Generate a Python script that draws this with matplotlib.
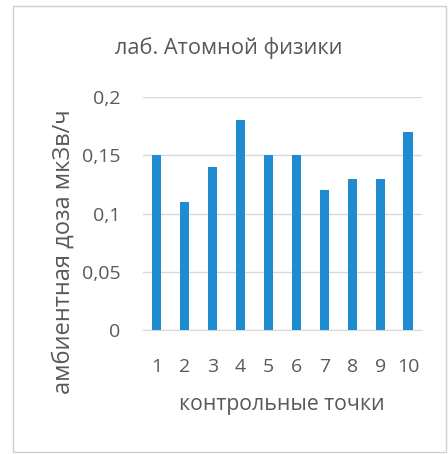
import matplotlib
matplotlib.use("Agg")
import matplotlib.pyplot as plt
from matplotlib.patches import Rectangle

plt.rcParams['font.family'] = ['Open Sans', 'DejaVu Sans']

points = ['1', '2', '3', '4', '5', '6', '7', '8', '9', '10']
dose = [0.15, 0.11, 0.14, 0.18, 0.15, 0.15, 0.12, 0.13, 0.13, 0.17]
yticks = [0, 0.05, 0.1, 0.15, 0.2]
ytick_labels = ['0', '0,05', '0,1', '0,15', '0,2']

title = 'лаб. Атомной физики'
xlabel = 'контрольные точки'
ylabel = 'амбиентная доза мкЗв/ч'

text_color = '#595959'
bar_color = '#1F8BD0'
grid_color = '#D9D9D9'

fig = plt.figure(figsize=(4.48, 4.54), dpi=100)
fig.patch.set_facecolor('white')

# chart frame
fig.patches.append(Rectangle((0.029, 0.004), 0.967, 0.983, transform=fig.transFigure,
                             fill=False, edgecolor='#D0D0D0', linewidth=1.0))

ax = fig.add_axes([0.319, 0.273, 0.623, 0.513])
x = list(range(len(points)))
ax.bar(x, dose, width=0.33, color=bar_color, zorder=3)

ax.set_xlim(-0.5, len(points) - 0.5)
ax.set_ylim(0, 0.2)
ax.set_yticks(yticks)
ax.set_yticklabels(ytick_labels)
ax.set_xticks(x)
ax.set_xticklabels(points)

ax.grid(axis='y', color=grid_color, linewidth=1.0, zorder=0)
for side in ['top', 'right', 'left']:
    ax.spines[side].set_visible(False)
ax.spines['bottom'].set_color(grid_color)
ax.tick_params(axis='both', length=0, colors=text_color, labelsize=14)
ax.tick_params(axis='y', pad=16)
ax.tick_params(axis='x', pad=20)

fig.text(0.51, 0.894, title, ha='center', va='center', fontsize=15.7, color=text_color)
fig.text(0.628, 0.108, xlabel, ha='center', va='center', fontsize=15.3, color=text_color)
fig.text(0.141, 0.445, ylabel, ha='center', va='center', rotation=90, fontsize=17,
         color=text_color)

fig.savefig('out.png', dpi=100, facecolor='white')
